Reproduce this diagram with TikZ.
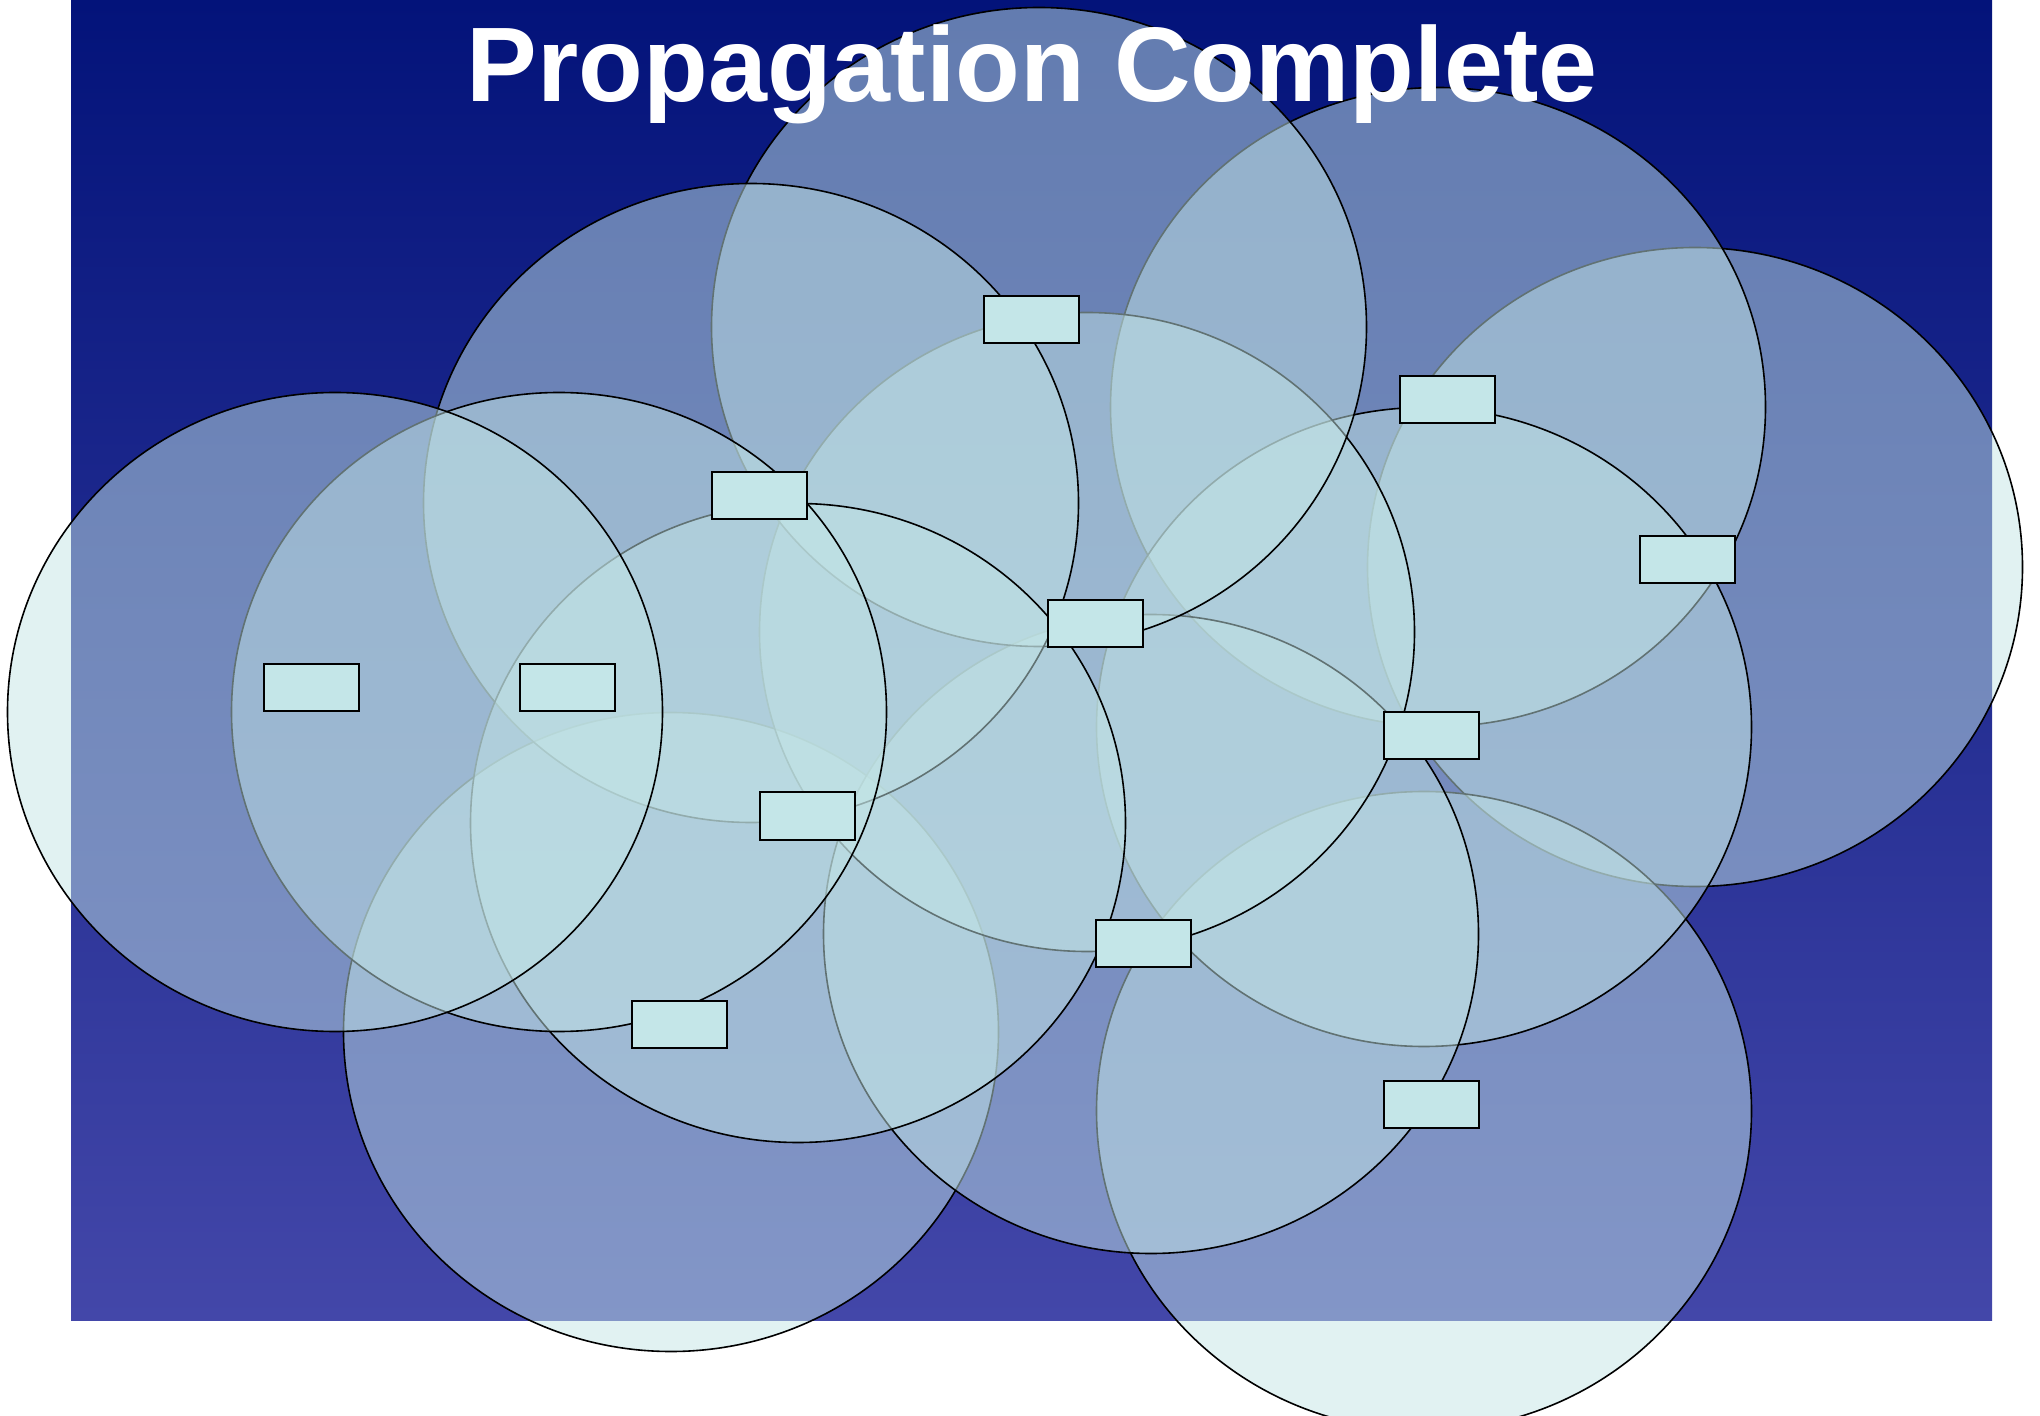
\documentclass[tikz,border=0pt]{standalone}
\usepackage{fontspec}
\setmainfont{Liberation Sans}
\definecolor{bgtop}{HTML}{03137A}
\definecolor{bgbottom}{HTML}{4347A9}
\definecolor{ripplefill}{HTML}{C3E5E6}
\definecolor{peerfill}{HTML}{C4E6E8}
\begin{document}
\begin{tikzpicture}[x=0.5pt,y=-0.5pt,
  ripple/.style={fill=ripplefill, fill opacity=0.5, draw=black, line width=0.8pt},
  peer/.style={draw=black, fill=peerfill, line width=1pt,
    minimum width=47.5pt, minimum height=23.5pt, inner sep=0pt, outer sep=0pt},
  headline/.style={text=white, anchor=base,
    font=\bfseries\fontsize{53}{60}\selectfont}]
\useasboundingbox (0,0) rectangle (2040,1416);
% backdrop with vertical gradient
\shade[top color=bgtop, bottom color=bgbottom] (71,0) rectangle (1992,1320);
% coverage ripples, drawn from the back to the front
\foreach \cx/\cy in {1695/567, 1438/407, 1424/1111, 1424/727, 671/1032,
                     1151/934, 1087/632, 1039/327, 751/503, 798/823,
                     559/712, 335/712}
  \path[ripple] (\cx,\cy) ellipse [x radius=163.75pt, y radius=159.75pt];
% peers
\node[peer] (p1)  at (311,687.5) {};
\node[peer] (p2)  at (567,687.5) {};
\node[peer] (p3)  at (759,496) {};
\node[peer] (p4)  at (1031,320) {};
\node[peer] (p5)  at (1447,400) {};
\node[peer] (p6)  at (1687,560) {};
\node[peer] (p7)  at (1095,624) {};
\node[peer] (p8)  at (807,816) {};
\node[peer] (p9)  at (1431,736) {};
\node[peer] (p10) at (1143,943) {};
\node[peer] (p11) at (679,1024) {};
\node[peer] (p12) at (1431,1104) {};
% title
\node[headline] (title) at (1032,102) {Propagation Complete};
\end{tikzpicture}
\end{document}
